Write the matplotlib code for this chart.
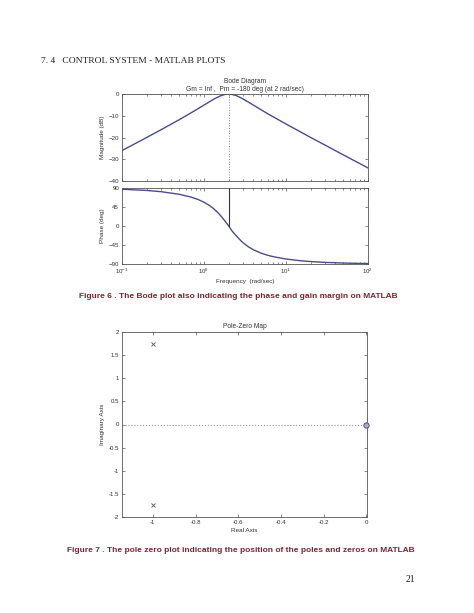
import matplotlib

matplotlib.use("Agg")
import matplotlib.pyplot as plt
from matplotlib.ticker import LogLocator, NullFormatter

# Values (rad/sec, dB, deg).
FREQ = [0.1, 0.2, 0.3, 0.5, 0.7, 0.85, 1.0, 1.15, 1.3, 1.45, 1.6, 1.8, 2.0, 2.2, 2.5, 2.8,
        3.0, 3.5, 4.0, 5.0, 6.0, 7.0, 10.0, 15.0, 20.0, 30.0, 50.0, 70.0, 100.0]
MAG_DB = [-26.0, -20.0, -16.4, -11.8, -8.6, -6.7, -5.1, -3.7, -2.5, -1.55, -0.8, -0.2, 0.0,
          -0.2, -0.8, -1.7, -2.3, -3.8, -5.1, -7.3, -9.1, -10.5, -13.8, -17.4, -20.0, -23.5,
          -28.0, -30.9, -34.0]
PHASE_DEG = [87.1, 84.2, 81.3, 75.1, 68.3, 62.6, 56.3, 49.3, 41.6, 33.2, 24.2, 11.9, 0.0,
             -11.8, -24.2, -34.4, -39.8, -49.7, -56.3, -64.5, -69.4, -72.7, -78.2, -82.3,
             -84.2, -86.2, -87.7, -88.4, -88.9]
CROSSOVER_FREQ = 2.0

# Pole-zero map.
POLES_RE = [-1.0, -1.0]
POLES_IM = [1.732, -1.732]
ZEROS_RE = [0.0]
ZEROS_IM = [0.0]

MAG_TICKS = [-40, -30, -20, -10, 0]
PHASE_TICKS = [-90, -45, 0, 45, 90]
PZ_XTICKS = [-1, -0.8, -0.6, -0.4, -0.2, 0]
PZ_XLABELS = ["-1", "-0.8", "-0.6", "-0.4", "-0.2", "0"]
PZ_YTICKS = [-2, -1.5, -1, -0.5, 0, 0.5, 1, 1.5, 2]
PZ_YLABELS = ["-2", "-1.5", "-1", "-0.5", "0", "0.5", "1", "1.5", "2"]

W, H = 474, 613
LINE_COLOR = "#4b4b8f"
AXIS_COLOR = "#555555"
CAPTION_COLOR = "#7d2530"
SANS = "Liberation Sans"
TICK_SIZE = 4.4


def box(left, top, right, bottom):
    """Pixel box -> figure fraction rect."""
    return [left / W, 1 - bottom / H, (right - left) / W, (bottom - top) / H]


def style_axes(ax):
    for spine in ax.spines.values():
        spine.set_color(AXIS_COLOR)
        spine.set_linewidth(0.6)
    ax.tick_params(which="both", direction="in", top=True, right=True, colors=AXIS_COLOR,
                   labelcolor="#333333", labelsize=TICK_SIZE, width=0.5, pad=2)
    ax.tick_params(which="major", length=2.5)
    ax.tick_params(which="minor", length=1.5)
    for lab in ax.get_xticklabels() + ax.get_yticklabels():
        lab.set_family(SANS)


def main():
    fig = plt.figure(figsize=(W / 100, H / 100), dpi=100)
    fig.patch.set_facecolor("white")

    fig.text(41 / W, 1 - 61 / H, "7. 4   CONTROL SYSTEM - MATLAB PLOTS", family="Liberation Serif",
             fontsize=6.8, va="center", ha="left", color="#222222")

    # Magnitude panel
    ax1 = fig.add_axes(box(122, 94, 368, 181))
    ax1.semilogx(FREQ, MAG_DB, color=LINE_COLOR, linewidth=1.0)
    ax1.plot([CROSSOVER_FREQ, CROSSOVER_FREQ], [0, -40], color="#888888", linestyle=":", linewidth=0.7)
    ax1.set_xlim(0.1, 100)
    ax1.set_ylim(-40, 0)
    ax1.set_yticks(MAG_TICKS)
    ax1.xaxis.set_major_locator(LogLocator(base=10))
    ax1.xaxis.set_minor_locator(LogLocator(base=10, subs=range(2, 10)))
    ax1.xaxis.set_major_formatter(NullFormatter())
    ax1.xaxis.set_minor_formatter(NullFormatter())
    ax1.set_ylabel("Magnitude (dB)", family=SANS, fontsize=4.6, labelpad=3, color="#333333")
    ax1.set_title("Bode Diagram\nGm = Inf ,  Pm = -180 deg (at 2 rad/sec)", family=SANS, fontsize=4.8,
                  pad=2, color="#333333", linespacing=1.25)
    style_axes(ax1)

    # Phase panel
    ax2 = fig.add_axes(box(122, 188, 368, 264))
    ax2.semilogx(FREQ, PHASE_DEG, color=LINE_COLOR, linewidth=1.0)
    ax2.plot([CROSSOVER_FREQ, CROSSOVER_FREQ], [0, 90], color="#333333", linewidth=0.8)
    ax2.set_xlim(0.1, 100)
    ax2.set_ylim(-90, 90)
    ax2.set_yticks(PHASE_TICKS)
    ax2.xaxis.set_major_locator(LogLocator(base=10))
    ax2.xaxis.set_minor_locator(LogLocator(base=10, subs=range(2, 10)))
    ax2.xaxis.set_minor_formatter(NullFormatter())
    ax2.set_ylabel("Phase (deg)", family=SANS, fontsize=4.6, labelpad=3, color="#333333")
    ax2.set_xlabel("Frequency  (rad/sec)", family=SANS, fontsize=4.6, labelpad=2, color="#333333")
    style_axes(ax2)

    fig.text(238 / W, 1 - 296 / H,
             "Figure 6 . The Bode plot also indicating the phase and gain margin on MATLAB",
             family=SANS, fontweight="bold", fontsize=6.0, color=CAPTION_COLOR, ha="center", va="center")

    # Pole-zero map
    ax3 = fig.add_axes(box(122, 332, 367, 517))
    ax3.axhline(0, color="#999999", linestyle=":", linewidth=0.8)
    ax3.plot(POLES_RE, POLES_IM, linestyle="none", marker="x", markersize=3.5, color="#666666",
             markeredgewidth=0.7)
    ax3.plot(ZEROS_RE, ZEROS_IM, linestyle="none", marker="o", markersize=3.8, markerfacecolor="#aab0cc",
             markeredgecolor="#555577", markeredgewidth=0.7, clip_on=False, zorder=5)
    ax3.set_xlim(-1.145, 0.004)
    ax3.set_ylim(-2, 2)
    ax3.set_xticks(PZ_XTICKS, PZ_XLABELS)
    ax3.set_yticks(PZ_YTICKS, PZ_YLABELS)
    ax3.set_title("Pole-Zero Map", family=SANS, fontsize=4.8, pad=3, color="#333333")
    ax3.set_xlabel("Real Axis", family=SANS, fontsize=4.6, labelpad=2, color="#333333")
    ax3.set_ylabel("Imaginary Axis", family=SANS, fontsize=4.6, labelpad=3, color="#333333")
    style_axes(ax3)

    fig.text(241 / W, 1 - 550 / H,
             "Figure 7 . The pole zero plot indicating the position of the poles and zeros on MATLAB",
             family=SANS, fontweight="bold", fontsize=6.0, color=CAPTION_COLOR, ha="center", va="center")

    fig.text(410 / W, 1 - 580 / H, "21", family="Liberation Serif", fontsize=7.0, color="#222222",
             ha="center", va="center")

    fig.savefig("out.png", dpi=100)
    plt.close(fig)


if __name__ == "__main__":
    main()
